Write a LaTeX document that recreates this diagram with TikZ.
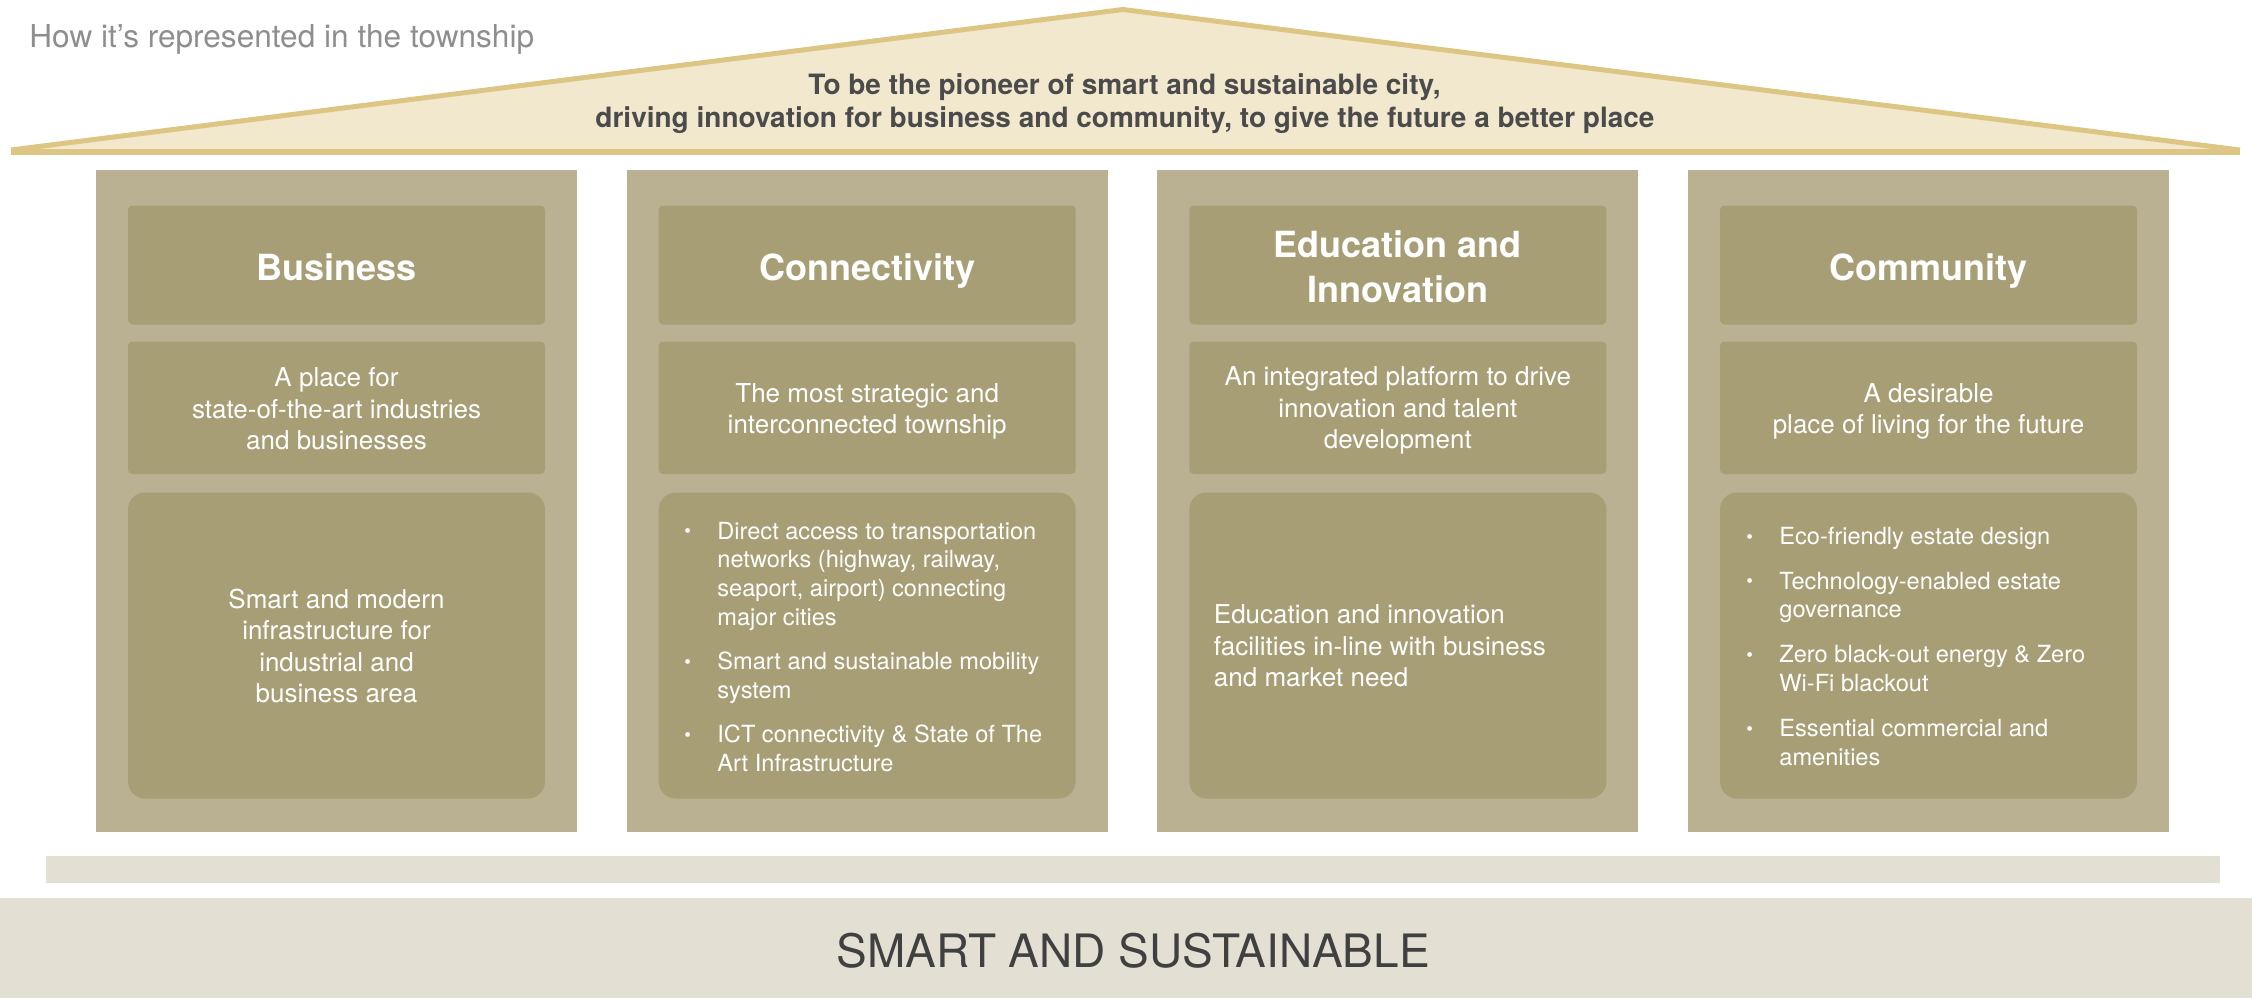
\documentclass[tikz,border=0pt]{standalone}
\usepackage{fontspec}
\setmainfont{TeX Gyre Heros}
\definecolor{pillarc}{HTML}{BAB192}
\definecolor{innerc}{HTML}{A89E76}
\definecolor{rooffill}{HTML}{F2E8CE}
\definecolor{roofline}{HTML}{DDC583}
\definecolor{basec}{HTML}{E3DFD3}
\definecolor{titlegray}{HTML}{8E8E8E}
\definecolor{rooftext}{HTML}{4B4B4B}
\definecolor{smarttext}{HTML}{404040}
\newcommand{\bdot}{\raisebox{0.6pt}{\fontsize{9.5}{9.5}\selectfont\textbullet}}
\begin{document}
\begin{tikzpicture}[x=0.5pt,y=-0.5pt,
  headtxt/.style={text=white, font=\fontsize{18}{22.3}\selectfont\bfseries, align=center, inner sep=0, anchor=base},
  desctxt/.style={text=white, font=\fontsize{13}{15.8}\selectfont, align=center, inner sep=0},
  bulltxt/.style={text=white, font=\fontsize{11.8}{14.4}\selectfont, inner sep=0, anchor=west},
  rooftxt/.style={text=rooftext, font=\fontsize{14}{17}\selectfont\bfseries, inner sep=0, anchor=base},
  pillarbox/.style={fill=pillarc},
  smallbox/.style={fill=innerc, rounded corners=2.2pt},
  bigbox/.style={fill=innerc, rounded corners=8.5pt},
  roofedge/.style={draw=roofline, line width=2.5pt}
]
\useasboundingbox (0,0) rectangle (2252,998);
% title
\node[anchor=base west, inner sep=0, text=titlegray, font=\fontsize{15.8}{19}\selectfont] (title) at (29,47.5) {How it’s represented in the township};
% roof
\fill[rooffill] (11,151) -- (1123,9.5) -- (2240,151) -- cycle;
\draw[roofedge, line join=miter] (11,150) -- (1123,9.5) -- (2240,150);
\draw[roofedge, line width=2.8pt, line cap=butt] (11,152) -- (2240,152);
\node[rooftxt] (mission1) at (1124.5,94) {To be the pioneer of smart and sustainable city,};
\node[rooftxt] (mission2) at (1125,127.5) {driving innovation for business and community, to give the future a better place};
% pillars
\foreach \i in {0,1,2,3}{
  \pgfmathsetmacro\L{96+530.67*\i}
  \pgfmathsetmacro\R{\L+481}
  \path[pillarbox] (\L,169.5) rectangle (\R,832);
  \path[smallbox] (\L+32,205.5) rectangle (\R-32,324.5);
  \path[smallbox] (\L+32,341.5) rectangle (\R-32,474);
  \path[bigbox] (\L+32,492.5) rectangle (\R-32,798.5);
}
% headings
\node[headtxt] (head1) at (336.5,280) {Business};
\node[headtxt] (head2) at (867.2,280) {Connectivity};
\node[headtxt] (head3) at (1397.8,302.5) {Education and\\Innovation};
\node[headtxt] (head4) at (1928.5,280) {Community};
% descriptions
\node[desctxt] (desc1) at (336.5,409) {A place for\\state-of-the-art industries\\and businesses};
\node[desctxt] (desc2) at (867.2,411.5) {The most strategic and\\interconnected township};
\node[desctxt] (desc3) at (1397.8,410.5) {An integrated platform to drive\\innovation and talent\\development};
\node[desctxt] (desc4) at (1928.5,411.5) {A desirable\\place of living for the future};
% bodies
\node[desctxt] (body1) at (336.5,646) {Smart and modern\\infrastructure for\\industrial and\\business area};
\node[desctxt, align=left, anchor=west] (body3) at (1213.5,646) {Education and innovation\\facilities in-line with business\\and market need};
\node[bulltxt] (body2) at (684,649.5) {\begin{tabular}{@{}l@{}l@{}}
\makebox[16.5pt][l]{\bdot} & Direct access to transportation\\
 & networks (highway, railway,\\
 & seaport, airport) connecting\\
 & major cities\\[7.7pt]
\makebox[16.5pt][l]{\bdot} & Smart and sustainable mobility\\
 & system\\[7.7pt]
\makebox[16.5pt][l]{\bdot} & ICT connectivity \& State of The\\
 & Art Infrastructure
\end{tabular}};
\node[bulltxt] (body4) at (1746,649) {\begin{tabular}{@{}l@{}l@{}}
\makebox[16.5pt][l]{\bdot} & Eco-friendly estate design\\[8pt]
\makebox[16.5pt][l]{\bdot} & Technology-enabled estate\\
 & governance\\[8pt]
\makebox[16.5pt][l]{\bdot} & Zero black-out energy \& Zero\\
 & Wi-Fi blackout\\[8pt]
\makebox[16.5pt][l]{\bdot} & Essential commercial and\\
 & amenities
\end{tabular}};
% base
\fill[basec] (46,856) rectangle (2220,883);
\fill[basec] (0,897.5) rectangle (2252,998);
\node[anchor=base, inner sep=0, text=smarttext, font=\fontsize{23}{26}\selectfont] (smart) at (1133,967) {SMART AND SUSTAINABLE};
\end{tikzpicture}
\end{document}
